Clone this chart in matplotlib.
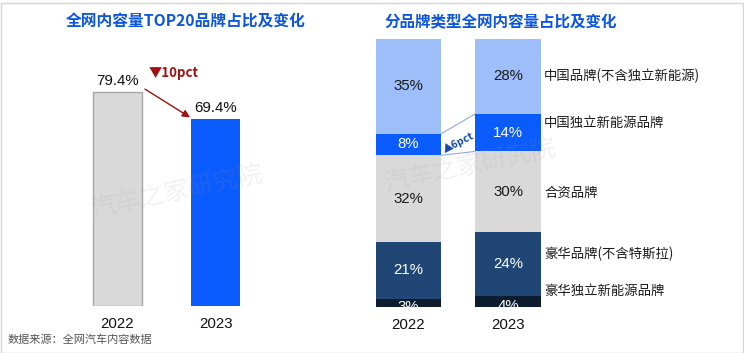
import matplotlib
matplotlib.use("Agg")
import matplotlib.pyplot as plt
import numpy as np
from matplotlib.patches import Rectangle

plt.rcParams['font.family'] = ['Liberation Sans', 'Noto Sans CJK SC', 'DejaVu Sans']
CJK = ['Noto Sans CJK SC', 'DejaVu Sans']

# ---------------- data ----------------
years = ['2022', '2023']
top20_share = [79.4, 69.4]
top20_title = '全网内容量TOP20品牌占比及变化'

type_title = '分品牌类型全网内容量占比及变化'
# stacked bottom -> top
type_names = ['豪华独立新能源品牌', '豪华品牌(不含特斯拉)', '合资品牌',
              '中国独立新能源品牌', '中国品牌(不含独立新能源)']
type_2022 = [3, 21, 32, 8, 35]
type_2023 = [4, 24, 30, 14, 28]
source_text = '数据来源：全网汽车内容数据'
watermark = '汽车之家研究院'

# ---------------- style ----------------
W, H = 744, 353
fig = plt.figure(figsize=(W / 100, H / 100), dpi=100)
fig.patch.set_facecolor('white')

def fx(px):
    return px / W

def fy(py):
    return (H - py) / H

# figure border
fig.add_artist(Rectangle((0.5 / W, 0.5 / H), 1 - 2 / W, 1 - 3 / H, transform=fig.transFigure,
                         fill=False, edgecolor='#D6D6D6', lw=1.0))

# ---------------- left panel ----------------
axL = fig.add_axes([fx(39.1), fy(305.7), fx(254.8), (305.7 - 36.6) / H])
axL.set_xlim(-0.8, 1.8)
axL.set_ylim(0, 100)
xs = np.arange(len(years))
axL.bar(xs[0], top20_share[0], width=0.5, color='#D9D9D9', edgecolor='#A6A6A6', lw=1.0, zorder=2)
axL.bar(xs[1], top20_share[1], width=0.5, color='#0A5CFF', edgecolor='none', zorder=2)
for x, v in zip(xs, top20_share):
    axL.annotate(f'{v:.1f}%', (x, v), xytext=(0, 3), textcoords='offset points',
                 ha='center', va='bottom', fontsize=10.8, color='#111111')
axL.set_xticks(xs)
axL.set_xticklabels(years, fontsize=10.8, color='#111111')
axL.tick_params(axis='x', length=0, pad=8)
axL.tick_params(axis='y', left=False, labelleft=False)
for s in axL.spines.values():
    s.set_visible(False)
axL.patch.set_alpha(0)

# arrow from 2022 top to 2023 top
axL.annotate('', xy=(xs[1] - 0.26, top20_share[1] + 0.6), xytext=(xs[0] + 0.28, top20_share[0] + 1.1),
             arrowprops=dict(arrowstyle='-|>', color='#A01010', lw=1.0, mutation_scale=11,
                             shrinkA=0, shrinkB=0))
diff = top20_share[0] - top20_share[1]
axL.text(0.577, top20_share[0] + 7.1, f'▼{diff:.0f}pct', ha='center', va='center',
         fontsize=9.5, fontweight='bold', color='#A01010', family=CJK)

fig.text(fx(186), fy(22), top20_title, ha='center', va='center', fontsize=11.3,
         fontweight='bold', color='#0B55E0', family=CJK)

# ---------------- right panel ----------------
axR = fig.add_axes([fx(328.9), fy(306.7), fx(258.7), (306.7 - 39) / H])
axR.set_xlim(-0.8, 1.8)
axR.set_ylim(0, 100)
seg_colors = ['#0D1B2E', '#1F4675', '#D9D9D9', '#0A5CFF', '#9DBEF8']
txt_colors = ['white', 'white', '#1a1a1a', 'white', '#1a1a1a']
data = np.array([type_2022, type_2023], dtype=float)
norm = data / data.sum(axis=1, keepdims=True) * 100
bw = 0.66
bottoms = np.zeros(2)
cum_bounds = []
for i in range(len(type_names)):
    axR.bar(xs, norm[:, i], width=bw, bottom=bottoms, color=seg_colors[i], edgecolor='none', zorder=2)
    for j in range(2):
        small = norm[j, i] < 6
        axR.annotate(f'{int(data[j, i])}%', (xs[j], bottoms[j] + norm[j, i] / 2),
                     xytext=(0, -3 if small else 0), textcoords='offset points',
                     ha='center', va='center', fontsize=10.8, color=txt_colors[i],
                     zorder=3, annotation_clip=False, clip_on=True)
    cum_bounds.append((bottoms.copy(), bottoms + norm[:, i]))
    bottoms = bottoms + norm[:, i]

# connector around 中国独立新能源品牌 segment
lo, hi = cum_bounds[3]
for yy in (lo, hi):
    axR.plot([xs[0] + bw / 2, xs[1] - bw / 2], [yy[0], yy[1]], color='#8FAADC', lw=0.8, zorder=1)
d6 = type_2023[3] - type_2022[3]
axR.text(0.5, (lo[0] + hi[0] + lo[1] + hi[1]) / 4 - 1.5, f'▲{d6}pct', ha='center', va='center',
         rotation=27, fontsize=7.6, fontweight='bold', color='#1848A8', family=CJK, zorder=3)

axR.set_xticks(xs)
axR.set_xticklabels(years, fontsize=10.8, color='#111111')
axR.tick_params(axis='x', length=0, pad=8)
axR.tick_params(axis='y', left=False, labelleft=False)
for s in axR.spines.values():
    s.set_visible(False)
axR.patch.set_alpha(0)

# category labels on the right
label_py = [291, 254, 193, 123, 76]
for name, py in zip(type_names, label_py):
    fig.text(fx(544), fy(py), name, ha='left', va='center', fontsize=9.6, color='#1a1a1a', family=CJK)

fig.text(fx(385), fy(22), type_title, ha='left', va='center', fontsize=11.2,
         fontweight='bold', color='#0B55E0', family=CJK)

# source
fig.text(fx(8), fy(340), source_text, ha='left', va='center', fontsize=8, color='#555555', family=CJK)

# watermarks
for cx, cy in [(177, 192), (470, 166)]:
    fig.text(fx(cx), fy(cy), watermark, ha='center', va='center', rotation=12, fontsize=18,
             color='#9a9a9a', alpha=0.13, family=CJK, zorder=10)

fig.savefig('out.png', dpi=100)
